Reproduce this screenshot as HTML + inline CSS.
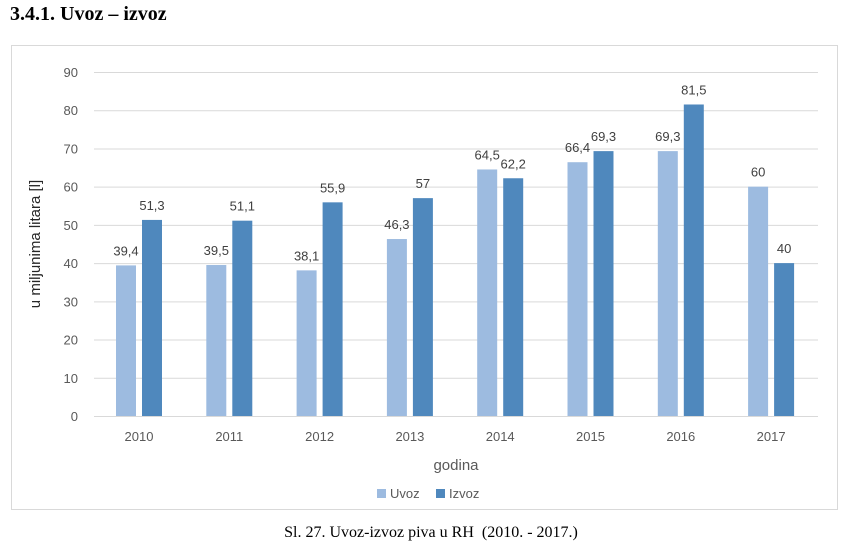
<!DOCTYPE html>
<html><head><meta charset="utf-8"><style>
body{margin:0;background:#fff;width:862px;height:546px;overflow:hidden;position:relative}
</style></head><body>
<div style="position:absolute;left:10px;top:3px;font:bold 20px 'Liberation Serif',serif;color:#000">3.4.1. Uvoz – izvoz</div>
<svg id="c" width="862" height="546" style="position:absolute;left:0;top:0">
<rect x="11.5" y="45.5" width="826" height="464" fill="none" stroke="#d9d9d9"/>
<g id="g"></g>
<text x="40" y="244" transform="rotate(-90 40 244)" text-anchor="middle" font-family="Liberation Sans,sans-serif" font-size="15" fill="#262626">u miljunima litara [l]</text>
<text x="456" y="470" text-anchor="middle" font-family="Liberation Sans,sans-serif" font-size="15" fill="#595959">godina</text>
<rect x="377" y="489" width="9" height="9" fill="#9dbbe0"/>
<text x="390" y="498" font-family="Liberation Sans,sans-serif" font-size="13" fill="#595959">Uvoz</text>
<rect x="436" y="489" width="9" height="9" fill="#4f88bd"/>
<text x="449" y="498" font-family="Liberation Sans,sans-serif" font-size="13" fill="#595959">Izvoz</text>
<text x="431" y="537" text-anchor="middle" font-family="Liberation Serif,serif" font-size="16" fill="#000" xml:space="preserve">Sl. 27. Uvoz-izvoz piva u RH&#160; (2010. - 2017.)</text>
</svg>
<script>
const categories=["2010","2011","2012","2013","2014","2015","2016","2017"];
const uvoz=[39.4,39.5,38.1,46.3,64.5,66.4,69.3,60];
const izvoz=[51.3,51.1,55.9,57,62.2,69.3,81.5,40];
const uvozLabels=["39,4","39,5","38,1","46,3","64,5","66,4","69,3","60"];
const izvozLabels=["51,3","51,1","55,9","57","62,2","69,3","81,5","40"];
const yTicks=[0,10,20,30,40,50,60,70,80,90];
const NS="http://www.w3.org/2000/svg",g=document.getElementById('g');
const y=v=>416-v*(344/90);
const x=i=>139+i*90.3;
function mk(t,a){const e=document.createElementNS(NS,t);for(const k in a)e.setAttribute(k,a[k]);g.appendChild(e);return e;}
yTicks.forEach(t=>{
 const l=mk('line',{x1:94,x2:818,y1:y(t)+0.5,y2:y(t)+0.5,stroke:'#d9d9d9'});
 
 
 const tx=mk('text',{x:78,y:y(t)+5,'text-anchor':'end','font-family':'Liberation Sans,sans-serif','font-size':13,fill:'#595959'});
 tx.textContent=t;
 
 
});
categories.forEach((c,i)=>{
 const cx=x(i);
 const b1=mk('rect',{x:cx-23,y:y(uvoz[i]),width:20,height:416-y(uvoz[i]),fill:'#9dbbe0'});
 
 
 const b2=mk('rect',{x:cx+3,y:y(izvoz[i]),width:20,height:416-y(izvoz[i]),fill:'#4f88bd'});
 
 
 const l1=mk('text',{x:cx-13,y:y(uvoz[i])-10,'text-anchor':'middle','font-family':'Liberation Sans,sans-serif','font-size':13,fill:'#404040'});
 l1.textContent=uvozLabels[i];
 
 
 const l2=mk('text',{x:cx+13,y:y(izvoz[i])-10,'text-anchor':'middle','font-family':'Liberation Sans,sans-serif','font-size':13,fill:'#404040'});
 l2.textContent=izvozLabels[i];
 
 
 const xt=mk('text',{x:cx,y:441,'text-anchor':'middle','font-family':'Liberation Sans,sans-serif','font-size':13,fill:'#595959'});
 xt.textContent=c;
 
 
});
</script>
</body></html>
